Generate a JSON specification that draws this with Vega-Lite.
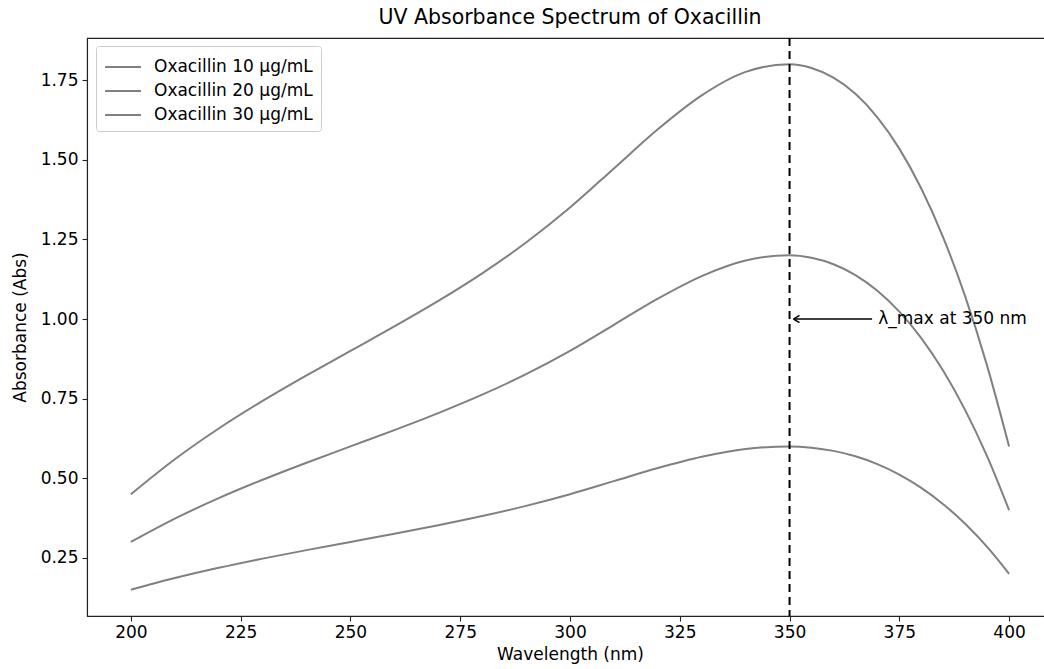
{
  "$schema": "https://vega.github.io/schema/vega-lite/v6.json",
  "width": 966,
  "height": 578,
  "autosize": {"type": "none"},
  "padding": {"left": 87, "top": 38, "right": 0, "bottom": 53},
  "background": "white",
  "config": {
    "font": "DejaVu Sans",
    "view": {"stroke": "#222222", "strokeWidth": 1.1},
    "axis": {
      "grid": false,
      "domainColor": "#222222",
      "domainWidth": 1.1,
      "tickColor": "#222222",
      "tickWidth": 1.1,
      "tickSize": 5,
      "labelFontSize": 17,
      "labelColor": "#000000",
      "titleFontSize": 17,
      "titleFontWeight": "normal",
      "titleColor": "#000000"
    }
  },
  "title": {
    "text": "UV Absorbance Spectrum of Oxacillin",
    "fontSize": 20.5,
    "fontWeight": "normal",
    "color": "#000000",
    "offset": 9,
    "anchor": "middle"
  },
  "datasets": {
    "spectra": [
      {"w": 200, "a": 0.15, "s": "Oxacillin 10 µg/mL"},
      {"w": 210, "a": 0.1866, "s": "Oxacillin 10 µg/mL"},
      {"w": 220, "a": 0.2188, "s": "Oxacillin 10 µg/mL"},
      {"w": 230, "a": 0.2477, "s": "Oxacillin 10 µg/mL"},
      {"w": 240, "a": 0.2744, "s": "Oxacillin 10 µg/mL"},
      {"w": 250, "a": 0.3, "s": "Oxacillin 10 µg/mL"},
      {"w": 260, "a": 0.3256, "s": "Oxacillin 10 µg/mL"},
      {"w": 270, "a": 0.3523, "s": "Oxacillin 10 µg/mL"},
      {"w": 280, "a": 0.3812, "s": "Oxacillin 10 µg/mL"},
      {"w": 290, "a": 0.4134, "s": "Oxacillin 10 µg/mL"},
      {"w": 300, "a": 0.45, "s": "Oxacillin 10 µg/mL"},
      {"w": 310, "a": 0.491, "s": "Oxacillin 10 µg/mL"},
      {"w": 320, "a": 0.532, "s": "Oxacillin 10 µg/mL"},
      {"w": 330, "a": 0.5675, "s": "Oxacillin 10 µg/mL"},
      {"w": 340, "a": 0.592, "s": "Oxacillin 10 µg/mL"},
      {"w": 350, "a": 0.6, "s": "Oxacillin 10 µg/mL"},
      {"w": 355, "a": 0.5961, "s": "Oxacillin 10 µg/mL"},
      {"w": 360, "a": 0.586, "s": "Oxacillin 10 µg/mL"},
      {"w": 365, "a": 0.569, "s": "Oxacillin 10 µg/mL"},
      {"w": 370, "a": 0.5445, "s": "Oxacillin 10 µg/mL"},
      {"w": 375, "a": 0.5117, "s": "Oxacillin 10 µg/mL"},
      {"w": 380, "a": 0.47, "s": "Oxacillin 10 µg/mL"},
      {"w": 385, "a": 0.4187, "s": "Oxacillin 10 µg/mL"},
      {"w": 390, "a": 0.357, "s": "Oxacillin 10 µg/mL"},
      {"w": 395, "a": 0.2843, "s": "Oxacillin 10 µg/mL"},
      {"w": 400, "a": 0.2, "s": "Oxacillin 10 µg/mL"},
      {"w": 200, "a": 0.3, "s": "Oxacillin 20 µg/mL"},
      {"w": 210, "a": 0.3732, "s": "Oxacillin 20 µg/mL"},
      {"w": 220, "a": 0.4376, "s": "Oxacillin 20 µg/mL"},
      {"w": 230, "a": 0.4954, "s": "Oxacillin 20 µg/mL"},
      {"w": 240, "a": 0.5488, "s": "Oxacillin 20 µg/mL"},
      {"w": 250, "a": 0.6, "s": "Oxacillin 20 µg/mL"},
      {"w": 260, "a": 0.6512, "s": "Oxacillin 20 µg/mL"},
      {"w": 270, "a": 0.7046, "s": "Oxacillin 20 µg/mL"},
      {"w": 280, "a": 0.7624, "s": "Oxacillin 20 µg/mL"},
      {"w": 290, "a": 0.8268, "s": "Oxacillin 20 µg/mL"},
      {"w": 300, "a": 0.9, "s": "Oxacillin 20 µg/mL"},
      {"w": 310, "a": 0.982, "s": "Oxacillin 20 µg/mL"},
      {"w": 320, "a": 1.064, "s": "Oxacillin 20 µg/mL"},
      {"w": 330, "a": 1.135, "s": "Oxacillin 20 µg/mL"},
      {"w": 340, "a": 1.184, "s": "Oxacillin 20 µg/mL"},
      {"w": 350, "a": 1.2, "s": "Oxacillin 20 µg/mL"},
      {"w": 355, "a": 1.1922, "s": "Oxacillin 20 µg/mL"},
      {"w": 360, "a": 1.172, "s": "Oxacillin 20 µg/mL"},
      {"w": 365, "a": 1.1381, "s": "Oxacillin 20 µg/mL"},
      {"w": 370, "a": 1.089, "s": "Oxacillin 20 µg/mL"},
      {"w": 375, "a": 1.0235, "s": "Oxacillin 20 µg/mL"},
      {"w": 380, "a": 0.94, "s": "Oxacillin 20 µg/mL"},
      {"w": 385, "a": 0.8373, "s": "Oxacillin 20 µg/mL"},
      {"w": 390, "a": 0.714, "s": "Oxacillin 20 µg/mL"},
      {"w": 395, "a": 0.5687, "s": "Oxacillin 20 µg/mL"},
      {"w": 400, "a": 0.4, "s": "Oxacillin 20 µg/mL"},
      {"w": 200, "a": 0.45, "s": "Oxacillin 30 µg/mL"},
      {"w": 210, "a": 0.5598, "s": "Oxacillin 30 µg/mL"},
      {"w": 220, "a": 0.6564, "s": "Oxacillin 30 µg/mL"},
      {"w": 230, "a": 0.7431, "s": "Oxacillin 30 µg/mL"},
      {"w": 240, "a": 0.8232, "s": "Oxacillin 30 µg/mL"},
      {"w": 250, "a": 0.9, "s": "Oxacillin 30 µg/mL"},
      {"w": 260, "a": 0.9768, "s": "Oxacillin 30 µg/mL"},
      {"w": 270, "a": 1.0569, "s": "Oxacillin 30 µg/mL"},
      {"w": 280, "a": 1.1436, "s": "Oxacillin 30 µg/mL"},
      {"w": 290, "a": 1.2402, "s": "Oxacillin 30 µg/mL"},
      {"w": 300, "a": 1.35, "s": "Oxacillin 30 µg/mL"},
      {"w": 310, "a": 1.473, "s": "Oxacillin 30 µg/mL"},
      {"w": 320, "a": 1.596, "s": "Oxacillin 30 µg/mL"},
      {"w": 330, "a": 1.7025, "s": "Oxacillin 30 µg/mL"},
      {"w": 340, "a": 1.776, "s": "Oxacillin 30 µg/mL"},
      {"w": 350, "a": 1.8, "s": "Oxacillin 30 µg/mL"},
      {"w": 355, "a": 1.7883, "s": "Oxacillin 30 µg/mL"},
      {"w": 360, "a": 1.758, "s": "Oxacillin 30 µg/mL"},
      {"w": 365, "a": 1.7071, "s": "Oxacillin 30 µg/mL"},
      {"w": 370, "a": 1.6335, "s": "Oxacillin 30 µg/mL"},
      {"w": 375, "a": 1.5352, "s": "Oxacillin 30 µg/mL"},
      {"w": 380, "a": 1.41, "s": "Oxacillin 30 µg/mL"},
      {"w": 385, "a": 1.256, "s": "Oxacillin 30 µg/mL"},
      {"w": 390, "a": 1.071, "s": "Oxacillin 30 µg/mL"},
      {"w": 395, "a": 0.853, "s": "Oxacillin 30 µg/mL"},
      {"w": 400, "a": 0.6, "s": "Oxacillin 30 µg/mL"}
    ],
    "vline": [{"w": 350}],
    "arrow": [{"w1": 350.9, "w2": 368.8, "a": 1.0, "label": "λ_max at 350 nm", "wt": 370.2}]
  },
  "layer": [
    {
      "data": {"name": "spectra"},
      "mark": {"type": "line", "interpolate": "monotone", "strokeWidth": 2, "clip": true},
      "encoding": {
        "x": {
          "field": "w", "type": "quantitative",
          "scale": {"domain": [190, 410], "nice": false, "zero": false},
          "axis": {"title": "Wavelength (nm)", "values": [200, 225, 250, 275, 300, 325, 350, 375, 400], "format": "d", "labelPadding": 3, "titlePadding": 6}
        },
        "y": {
          "field": "a", "type": "quantitative",
          "scale": {"domain": [0.0675, 1.8825], "nice": false, "zero": false},
          "axis": {"title": "Absorbance (Abs)", "values": [0.25, 0.5, 0.75, 1.0, 1.25, 1.5, 1.75], "format": ".2f", "labelPadding": 4, "titlePadding": 11}
        },
        "color": {
          "field": "s", "type": "nominal",
          "scale": {"range": ["#808080", "#808080", "#808080"]},
          "legend": {
            "title": null,
            "orient": "none",
            "legendX": 9,
            "legendY": 8,
            "symbolType": "M-1,0L2,0",
            "symbolSize": 576,
            "symbolStrokeWidth": 2,
            "labelFontSize": 17,
            "labelColor": "#000000",
            "labelOffset": 24,
            "rowPadding": 3,
            "padding": 8,
            "strokeColor": "#cccccc",
            "fillColor": "white",
            "cornerRadius": 3
          }
        },
        "detail": {"field": "s"}
      }
    },
    {
      "data": {"name": "vline"},
      "mark": {"type": "rule", "color": "#000000", "strokeWidth": 2, "strokeDash": [8, 5]},
      "encoding": {"x": {"field": "w", "type": "quantitative"}}
    },
    {
      "data": {"name": "arrow"},
      "mark": {"type": "rule", "color": "#000000", "strokeWidth": 1.5},
      "encoding": {
        "x": {"field": "w1", "type": "quantitative"},
        "x2": {"field": "w2"},
        "y": {"field": "a", "type": "quantitative"}
      }
    },
    {
      "data": {"name": "arrow"},
      "mark": {"type": "point", "shape": "M0,0L1,-0.6M0,0L1,0.6", "filled": false, "stroke": "#000000", "strokeWidth": 1.5, "size": 144, "opacity": 1},
      "encoding": {
        "x": {"field": "w1", "type": "quantitative"},
        "y": {"field": "a", "type": "quantitative"}
      }
    },
    {
      "data": {"name": "arrow"},
      "mark": {"type": "text", "align": "left", "baseline": "middle", "fontSize": 17, "color": "#000000"},
      "encoding": {
        "x": {"field": "wt", "type": "quantitative"},
        "y": {"field": "a", "type": "quantitative"},
        "text": {"field": "label"}
      }
    }
  ]
}
